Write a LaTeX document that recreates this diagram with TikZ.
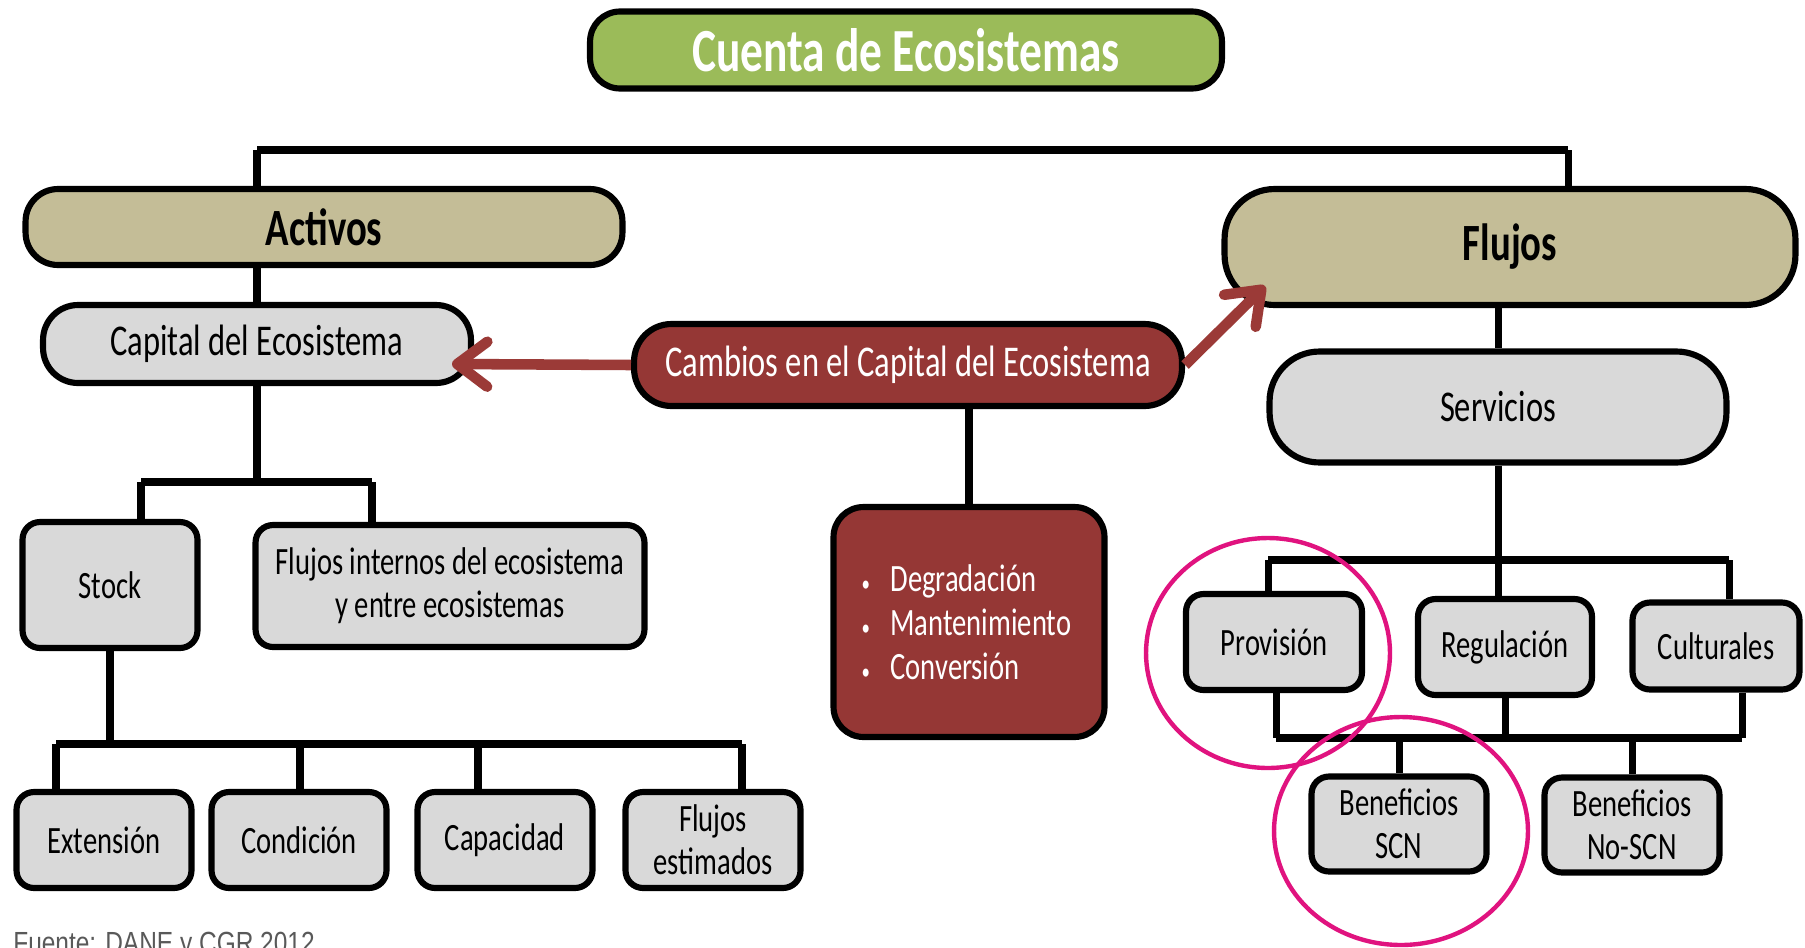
\documentclass[tikz,border=0pt]{standalone}
\usepackage{fontspec}
\setmainfont{Carlito}[FakeStretch=0.74]
\newfontfamily\fuentenota{Liberation Sans}[FakeStretch=0.8]
\usetikzlibrary{arrows.meta,positioning}
\definecolor{verdetit}{HTML}{9BBB59}
\definecolor{arena}{HTML}{C4BD97}
\definecolor{grisclaro}{HTML}{D9D9D9}
\definecolor{vino}{HTML}{953735}
\definecolor{flechavino}{HTML}{9B3A37}
\definecolor{fucsia}{HTML}{E0137F}
\definecolor{gristexto}{HTML}{595959}
\newcommand{\punto}{\makebox[0.58cm][l]{\fontsize{13}{13}\selectfont\textbullet}}

\begin{document}
\begin{tikzpicture}[x=0.02cm, y=-0.02cm,
    borde/.style={draw=black, line width=3.5pt, align=center, inner sep=2pt},
    pildora/.style={borde, rounded corners=#1},
    caja/.style={borde, fill=grisclaro, rounded corners=0.35cm, minimum width=3.5cm,
        minimum height=1.92cm, font=\fontsize{22}{24.5}\selectfont},
    medio/.style={font=\fontsize{25}{28}\selectfont},
    grande/.style={font=\fontsize{29.8}{33}\selectfont\bfseries},
    linea/.style={line width=4pt},
    barra/.style={line width=5pt},
    flecha/.style={draw=flechavino, line width=6pt,
        -{Straight Barb[length=0.6cm, width=0.9cm, round]}},
    resalte/.style={draw=fucsia, line width=2.5pt}]
  \useasboundingbox (0,0) rectangle (1805,947);

  \node[pildora=0.6cm, fill=verdetit, minimum width=12.64cm, minimum height=1.54cm,
        text=white, font=\fontsize{34.9}{38}\selectfont\bfseries] (titulo) at (906,50)
       {Cuenta de Ecosistemas};
  \node[pildora=0.65cm, fill=arena, minimum width=11.94cm, minimum height=1.52cm, grande]
       (activos) at (324,227) {Activos};
  \node[pildora=1cm, fill=arena, minimum width=11.42cm, minimum height=2.32cm, grande]
       (flujos) at (1510,247) {Flujos};
  \node[pildora=0.7cm, fill=grisclaro, minimum width=8.56cm, minimum height=1.56cm, medio]
       (capital) at (257,344) {Capital del Ecosistema};
  \node[pildora=0.75cm, fill=vino, minimum width=10.96cm, minimum height=1.64cm, medio,
        text=white] (cambios) at (908,365) {Cambios en el Capital del Ecosistema};
  \node[pildora=1cm, fill=grisclaro, minimum width=9.14cm, minimum height=2.22cm, medio]
       (servicios) at (1498,407) {Servicios};
  \node[pildora=0.6cm, fill=vino, minimum width=5.42cm, minimum height=4.6cm,
        text width=4.3cm, align=left, text=white, font=\fontsize{22}{25}\selectfont]
       (lista) at (969,622)
       {\punto Degradación\\ \punto Mantenimiento\\ \punto Conversión};

  \node[caja, minimum height=2.52cm] (stock) at (110,585) {Stock};
  \node[caja, minimum width=7.78cm, minimum height=2.44cm] (internos) at (450,586)
       {Flujos internos del ecosistema\\ y entre ecosistemas};
  \node[caja] (extension) at (104,840) {Extensión};
  \node[caja] (condicion) at (299,840) {Condición};
  \node[caja] (capacidad) at (505,840) {Capacidad};
  \node[caja] (estimados) at (713,840) {Flujos\\ estimados};

  \node[caja, minimum width=3.52cm] (provision) at (1274,642) {Provisión};
  \node[caja, minimum width=3.48cm] (regulacion) at (1505,647) {Regulación};
  \node[caja, minimum width=3.34cm, minimum height=1.74cm] (culturales) at (1716,646) {Culturales};
  \node[caja, minimum height=1.9cm] (scn) at (1399,824) {Beneficios\\ SCN};
  \node[caja, minimum height=1.9cm] (noscn) at (1632,825) {Beneficios\\ No-SCN};

  \node[anchor=north west, inner sep=0pt, text=gristexto,
        font=\fuentenota\fontsize{17.4}{20}\selectfont] (nota) at (13,932)
       {Fuente: DANE y CGR 2012};

  % ramas superiores
  \coordinate (derecha) at (1568,150);
  \draw[linea] (capital |- activos.north) -- (capital |- derecha);
  \draw[linea] (derecha) -- (derecha |- flujos.north);
  \draw[barra] (capital |- derecha) -- (derecha);
  \draw[linea] (capital |- activos.south) -- (capital.north);
  \draw[linea] (servicios |- flujos.south) -- (servicios.north);
  \draw[linea] (lista |- cambios.south) -- (lista.north);

  % activos
  \coordinate (s1) at (141,482);
  \coordinate (s2) at (372,482);
  \draw[linea] (capital.south) -- (capital |- s1);
  \draw[linea] (s1) -- (s1 |- stock.north);
  \draw[linea] (s2) -- (s2 |- internos.north);
  \draw[barra] (s1) -- (s2);
  \coordinate (b1) at (56,744);
  \coordinate (b2) at (300,744);
  \coordinate (b3) at (478,744);
  \coordinate (b4) at (742,744);
  \draw[linea] (stock.south) -- (stock |- b1);
  \draw[linea] (b1) -- (b1 |- extension.north);
  \draw[linea] (b2) -- (b2 |- condicion.north);
  \draw[linea] (b3) -- (b3 |- capacidad.north);
  \draw[linea] (b4) -- (b4 |- estimados.north);
  \draw[barra] (b1) -- (b4);

  % servicios
  \coordinate (v1) at (1268,560);
  \coordinate (v2) at (1729,560);
  \draw[linea] (servicios.south) -- (servicios |- v1);
  \draw[linea] (v1) -- (v1 |- provision.north);
  \draw[linea] (regulacion.north -| servicios) -- (servicios |- v1);
  \draw[linea] (v2) -- (v2 |- culturales.north);
  \draw[barra] (v1) -- (v2);
  \coordinate (w1) at (1276,738);
  \coordinate (w2) at (1742,738);
  \draw[linea] (w1 |- provision.south) -- (w1);
  \draw[linea] (regulacion.south) -- (regulacion |- w1);
  \draw[linea] (w2 |- culturales.south) -- (w2);
  \draw[barra] (w1) -- (w2);
  \draw[linea] (scn |- w1) -- (scn.north);
  \draw[linea] (noscn |- w1) -- (noscn.north);

  % cambios
  \coordinate (puntaizq) at (452,364);
  \coordinate (puntader) at (1265,286);
  \draw[flecha] (cambios.west) -- (puntaizq);
  \draw[flecha] (cambios.east) -- (puntader);

  \draw[resalte] (1268,653) ellipse [x radius=2.44cm, y radius=2.3cm];
  \draw[resalte] (1401,831) ellipse [x radius=2.54cm, y radius=2.28cm];
\end{tikzpicture}
\end{document}
